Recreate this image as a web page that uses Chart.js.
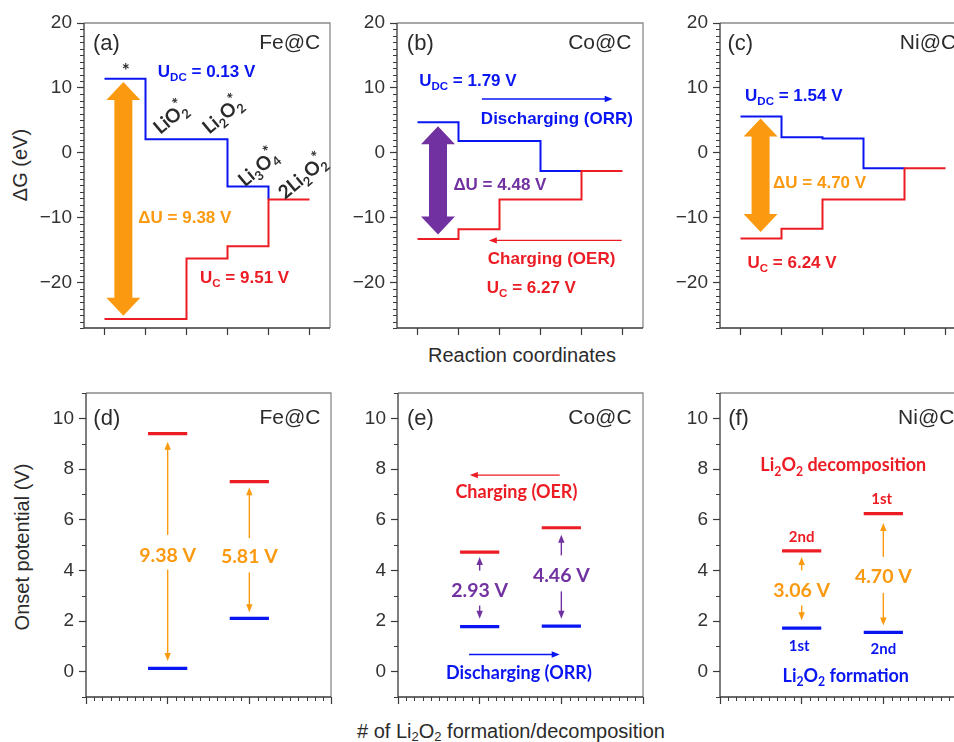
<!DOCTYPE html>
<html>
<head>
<meta charset="utf-8" />
<title>Li-O2 free energy and onset potentials</title>
<script src="https://cdn.jsdelivr.net/npm/chart.js"></script>
<style>
  body { margin: 0; background: #fff; }
  #fig { position: relative; width: 954px; height: 742px; overflow: hidden;
         font-family: 'Liberation Sans', Arial, sans-serif; color: #2b2b2b; }
  #fig canvas { position: absolute; }
  .t { position: absolute; font-size: 20px; white-space: nowrap; transform: translate(-50%, -50%); }
  .v { transform: translate(-50%, -50%) rotate(-90deg); }
  .t sub { font-size: 13px; vertical-align: -3px; line-height: 0; }
</style>
</head>
<body>
<div id="fig">
  <div class="t v" style="left:20px; top:165px">ΔG (eV)</div>
  <div class="t" style="left:522px; top:355px">Reaction coordinates</div>
  <div class="t v" style="left:22px; top:547px">Onset potential (V)</div>
  <div class="t" style="left:511px; top:731px"># of Li<sub>2</sub>O<sub>2</sub> formation/decomposition</div>
</div>
<script>
// free energy of each state along the reaction coordinate (eV)
const states = ['*', 'LiO2*', 'Li2O2*', 'Li3O4*', '2Li2O2*'];
const coordTicks = [0, 1, 2, 3, 4, 5];
const feORR = [11.4, 2.1, 2.1, -5.2, -7.2];
const feOER = [-25.6, -25.6, -16.3, -14.4, -7.2];
const coORR = [4.7, 1.8, 1.8, -2.8, -2.8];
const coOER = [-13.3, -11.8, -7.2, -7.2, -2.8];
const niORR = [5.6, 2.4, 2.2, -2.4, -2.4];
const niOER = [-13.2, -11.7, -7.2, -7.2, -2.4];
const energyTicks = [-20, -10, 0, 10, 20];

// onset potentials for the 1st / 2nd Li2O2 (V)
const cycles = [1, 2];
const cycleTicks = [0, 1, 2, 3];
const feDischarge = [0.13, 2.1];
const feCharge = [9.4, 7.5];
const coDischarge = [1.78, 1.8];
const coCharge = [4.72, 5.68];
const niDischarge = [1.72, 1.55];
const niCharge = [4.77, 6.24];
const feGap = ['9.38 V', '5.81 V'];
const coGap = ['2.93 V', '4.46 V'];
const niGap = ['3.06 V', '4.70 V'];
const potentialTicks = [0, 2, 4, 6, 8, 10];

const SANS = "'Liberation Sans', Arial, sans-serif";
const CAL = "Lato, 'Noto Sans', sans-serif";
const INK = '#2b2b2b';
const BLUE = '#0a16f2';
const RED = '#ec1c24';
const ORANGE = '#fb9a10';
const PURPLE = '#7131a1';

const ST = {
  tag:  { size: 22, family: SANS, weight: 'normal', color: INK },
  name: { size: 21, family: SANS, weight: 'normal', color: INK },
  ann:  { size: 17, family: SANS, weight: 'bold' },
  chem: { size: 19, family: CAL, weight: 'bold', color: INK, sup: 0.85 },
  cal:  { size: 19.5, family: CAL, weight: 'bold' },
  calS: { size: 18, family: CAL, weight: 'bold' },
  ord:  { size: 15, family: CAL, weight: 'bold' }
};

function parseRich(s) {
  const segs = [];
  let buf = '', i = 0;
  while (i < s.length) {
    const c = s[i];
    if ((c === '_' || c === '^') && s[i + 1] === '{') {
      if (buf) { segs.push({ t: buf, k: 'n' }); buf = ''; }
      const j = s.indexOf('}', i);
      segs.push({ t: s.slice(i + 2, j), k: c === '_' ? 'sub' : 'sup' });
      i = j + 1;
    } else { buf += c; i++; }
  }
  if (buf) segs.push({ t: buf, k: 'n' });
  return segs;
}

function drawRich(ctx, s, px, py, st, color, align, rot) {
  const segs = parseRich(s);
  const items = [];
  let w = 0;
  segs.forEach((sg, k) => {
    const fs = sg.k === 'n' ? st.size : st.size * (sg.k === 'sup' && st.sup ? st.sup : 0.68);
    const font = st.weight + ' ' + fs + 'px ' + st.family;
    ctx.font = font;
    const tw = ctx.measureText(sg.t).width;
    const dy = sg.k === 'sub' ? st.size * 0.25 : sg.k === 'sup' ? -st.size * 0.4 : 0;
    if (sg.k === 'sup' && k > 0 && segs[k - 1].k === 'sub') {
      const sx = items[items.length - 1].dx;
      items.push({ t: sg.t, font, dx: sx, dy });
      w = Math.max(w, sx + tw);
    } else {
      items.push({ t: sg.t, font, dx: w, dy });
      w += tw;
    }
  });
  ctx.save();
  ctx.translate(px, py);
  if (rot) ctx.rotate(rot * Math.PI / 180);
  const x0 = align === 'left' ? 0 : align === 'right' ? -w : -w / 2;
  ctx.fillStyle = color || st.color || INK;
  ctx.textAlign = 'left';
  ctx.textBaseline = 'alphabetic';
  const base = st.size * 0.36;
  items.forEach(it => { ctx.font = it.font; ctx.fillText(it.t, x0 + it.dx, base + it.dy); });
  ctx.restore();
}

function arrowHead(ctx, x1, y1, x2, y2, len, half) {
  const a = Math.atan2(y2 - y1, x2 - x1);
  ctx.beginPath();
  ctx.moveTo(x2, y2);
  ctx.lineTo(x2 - len * Math.cos(a) + half * Math.sin(a), y2 - len * Math.sin(a) - half * Math.cos(a));
  ctx.lineTo(x2 - len * Math.cos(a) - half * Math.sin(a), y2 - len * Math.sin(a) + half * Math.cos(a));
  ctx.closePath();
  ctx.fill();
}

function makeDeco(spec) {
  return {
    id: 'deco',
    afterDatasetsDraw(chart) {
      const { ctx, chartArea: a, scales: { x, y } } = chart;
      ctx.save();
      // frame: dark axes, light top/right
      ctx.lineWidth = 1.3;
      ctx.strokeStyle = '#8a8a8a';
      ctx.beginPath();
      ctx.moveTo(a.left, a.top); ctx.lineTo(a.right, a.top); ctx.lineTo(a.right, a.bottom);
      ctx.stroke();
      ctx.strokeStyle = '#3a3a3a';
      ctx.beginPath();
      ctx.moveTo(a.left, a.top); ctx.lineTo(a.left, a.bottom); ctx.lineTo(a.right, a.bottom);
      ctx.stroke();
      // minor ticks
      ctx.lineWidth = 1;
      if (spec.minorY) {
        for (let v = Math.ceil(y.min); v <= y.max; v += spec.minorY) {
          if (v % spec.majorY === 0) continue;
          const py = Math.round(y.getPixelForValue(v)) + 0.5;
          ctx.beginPath(); ctx.moveTo(a.left - 4, py); ctx.lineTo(a.left, py); ctx.stroke();
        }
      }
      if (spec.minorX) {
        for (let k = 1; k < (x.max - x.min) / spec.minorX; k++) {
          const v = x.min + k * spec.minorX;
          if (Math.abs(v - Math.round(v)) < 1e-6) continue;
          const px = Math.round(x.getPixelForValue(v)) + 0.5;
          ctx.beginPath(); ctx.moveTo(px, a.bottom); ctx.lineTo(px, a.bottom + 4); ctx.stroke();
        }
      }
      // thick double arrows
      (spec.bigArrows || []).forEach(b => {
        const cx = x.getPixelForValue(b.x), yt = y.getPixelForValue(b.y1), yb = y.getPixelForValue(b.y2);
        const sw = 9, hw = 17, hl = 18;
        ctx.fillStyle = b.color;
        ctx.beginPath();
        ctx.moveTo(cx, yt);
        ctx.lineTo(cx + hw, yt + hl); ctx.lineTo(cx + sw, yt + hl);
        ctx.lineTo(cx + sw, yb - hl); ctx.lineTo(cx + hw, yb - hl);
        ctx.lineTo(cx, yb);
        ctx.lineTo(cx - hw, yb - hl); ctx.lineTo(cx - sw, yb - hl);
        ctx.lineTo(cx - sw, yt + hl); ctx.lineTo(cx - hw, yt + hl);
        ctx.closePath();
        ctx.fill();
      });
      // thin arrows, head at the second point
      (spec.arrows || []).forEach(r => {
        const x1 = x.getPixelForValue(r.x1), y1 = y.getPixelForValue(r.y1);
        const x2 = x.getPixelForValue(r.x2), y2 = y.getPixelForValue(r.y2);
        ctx.strokeStyle = r.color; ctx.fillStyle = r.color; ctx.lineWidth = 1.4;
        const a2 = Math.atan2(y2 - y1, x2 - x1);
        ctx.beginPath(); ctx.moveTo(x1, y1);
        ctx.lineTo(x2 - 6 * Math.cos(a2), y2 - 6 * Math.sin(a2)); ctx.stroke();
        arrowHead(ctx, x1, y1, x2, y2, 8, 3.2);
      });
      (spec.texts || []).forEach(t => {
        drawRich(ctx, t.s, x.getPixelForValue(t.x), y.getPixelForValue(t.y), ST[t.st], t.color, t.align || 'center', t.rot);
      });
      ctx.restore();
    }
  };
}

const PAD_L = 60, PAD_T = 12, PAD_R = 14;

function addCanvas(r, xh) {
  const c = document.createElement('canvas');
  c.width = r.R - r.L + PAD_L + PAD_R;
  c.height = r.B - r.T + PAD_T + xh;
  c.style.left = (r.L - PAD_L) + 'px';
  c.style.top = (r.T - PAD_T) + 'px';
  document.getElementById('fig').appendChild(c);
  return c;
}

function minusFmt(v) { return v < 0 ? '\u2212' + Math.abs(v) : String(v); }

function axes(xr, yr, xh, xLabels) {
  return {
    x: {
      type: 'linear', min: xr.min, max: xr.max,
      afterBuildTicks: s => { s.ticks = xr.ticks.map(v => ({ value: v })); },
      afterFit: s => { s.height = xh; s.paddingLeft = 0; s.paddingRight = 0; },
      border: { display: false },
      grid: { drawOnChartArea: false, tickLength: 7, tickColor: '#3a3a3a', tickWidth: 1.2 },
      ticks: { padding: 5, maxRotation: 0, autoSkip: false, color: '#666', font: { family: SANS, size: 19 },
               callback: v => xLabels ? String(v) : '' }
    },
    y: {
      min: yr.min, max: yr.max,
      afterBuildTicks: s => { s.ticks = yr.ticks.map(v => ({ value: v })); },
      afterFit: s => { s.width = PAD_L; s.paddingTop = 0; s.paddingBottom = 0; },
      border: { display: false },
      grid: { drawOnChartArea: false, tickLength: 7, tickColor: '#3a3a3a', tickWidth: 1.2 },
      ticks: { padding: 5, color: '#333', font: { family: SANS, size: 19 }, callback: minusFmt }
    }
  };
}

// one point per state, horizontal first; the last state is closed at x = end
function stepPoints(levels, end) {
  const pts = levels.map((v, i) => ({ x: i, y: v }));
  if (end > levels.length - 1) pts.push({ x: end, y: levels[levels.length - 1] });
  return pts;
}

function energyPanel(r, orr, oer, spec) {
  const c = addCanvas(r, 22);
  new Chart(c, {
    type: 'line',
    data: {
      datasets: [
        { data: stepPoints(oer, 5), borderColor: RED, borderWidth: 2, stepped: 'before', pointRadius: 0, borderJoinStyle: 'miter' },
        { data: stepPoints(orr, 4), borderColor: BLUE, borderWidth: 2, stepped: 'before', pointRadius: 0, borderJoinStyle: 'miter' }
      ]
    },
    options: {
      responsive: false, animation: false, devicePixelRatio: 1,
      layout: { padding: { left: 0, top: PAD_T, right: PAD_R, bottom: 0 } },
      plugins: { legend: { display: false }, tooltip: { enabled: false } },
      scales: axes({ min: -0.5, max: 5.5, ticks: coordTicks }, { min: -27, max: 20, ticks: energyTicks }, 22, false)
    },
    plugins: [makeDeco(Object.assign({ minorY: 1, majorY: 10 }, spec))]
  });
}

function levelPoints(xs, ys) {
  const pts = [];
  xs.forEach((xv, i) => { pts.push({ x: xv - 0.24, y: ys[i] }, { x: xv + 0.24, y: ys[i] }, { x: xv, y: null }); });
  return pts;
}

function onsetPanel(r, dis, chg, gaps, gapColor, gapY, arrowYs, spec) {
  const c = addCanvas(r, 16);
  const texts = (spec.texts || []).concat(gaps.map((g, i) => ({ x: cycles[i], y: gapY[i], s: g, st: 'cal', color: gapColor })));
  const arrows = (spec.arrows || []).concat(...cycles.map((cx, i) => {
    const [a1, a2, b1, b2] = arrowYs[i];
    return [{ x1: cx, y1: a1, x2: cx, y2: a2, color: gapColor }, { x1: cx, y1: b1, x2: cx, y2: b2, color: gapColor }];
  }));
  new Chart(c, {
    type: 'line',
    data: {
      datasets: [
        { data: levelPoints(cycles, chg), borderColor: RED, borderWidth: 3.2, pointRadius: 0, spanGaps: false },
        { data: levelPoints(cycles, dis), borderColor: BLUE, borderWidth: 3.2, pointRadius: 0, spanGaps: false }
      ]
    },
    options: {
      responsive: false, animation: false, devicePixelRatio: 1,
      layout: { padding: { left: 0, top: PAD_T, right: PAD_R, bottom: 0 } },
      plugins: { legend: { display: false }, tooltip: { enabled: false } },
      scales: axes({ min: 0, max: 3, ticks: cycleTicks }, { min: -1, max: 11, ticks: potentialTicks }, 16, true)
    },
    plugins: [makeDeco({ minorY: 1, majorY: 2, minorX: 0.1, texts, arrows, bigArrows: spec.bigArrows })]
  });
}

// (a) Fe@C
energyPanel({ L: 84, T: 23, R: 330, B: 328 }, feORR, feOER, {
  bigArrows: [{ x: 0.46, y1: 10.9, y2: -25.1, color: ORANGE }],
  texts: [
    { x: -0.28, y: 17.1, s: '(a)', st: 'tag', align: 'left' },
    { x: 5.26, y: 17.1, s: 'Fe@C', st: 'name', align: 'right' },
    { x: 0.52, y: 12.7, s: '*', st: 'chem' },
    { x: 1.30, y: 12.6, s: 'U_{DC} = 0.13 V', st: 'ann', color: BLUE, align: 'left' },
    { x: 1.60, y: 5.4, s: 'LiO_{2}^{*}', st: 'chem', rot: -40 },
    { x: 2.87, y: 5.8, s: 'Li_{2}O_{2}^{*}', st: 'chem', rot: -40 },
    { x: 3.74, y: -2.3, s: 'Li_{3}O_{4}^{*}', st: 'chem', rot: -40 },
    { x: 4.82, y: -3.7, s: '2Li_{2}O_{2}^{*}', st: 'chem', rot: -40 },
    { x: 1.96, y: -9.9, s: 'ΔU = 9.38 V', st: 'ann', color: ORANGE },
    { x: 2.33, y: -19.1, s: 'U_{C} = 9.51 V', st: 'ann', color: RED, align: 'left' }
  ]
});

// (b) Co@C
energyPanel({ L: 397, T: 23, R: 643, B: 328 }, coORR, coOER, {
  bigArrows: [{ x: 0.5, y1: 4.1, y2: -12.6, color: PURPLE }],
  arrows: [
    { x1: 1.57, y1: 8.3, x2: 4.76, y2: 8.3, color: BLUE },
    { x1: 4.98, y1: -13.5, x2: 1.74, y2: -13.5, color: RED }
  ],
  texts: [
    { x: -0.26, y: 17.1, s: '(b)', st: 'tag', align: 'left' },
    { x: 5.22, y: 17.1, s: 'Co@C', st: 'name', align: 'right' },
    { x: 0.04, y: 11.2, s: 'U_{DC} = 1.79 V', st: 'ann', color: BLUE, align: 'left' },
    { x: 3.40, y: 5.4, s: 'Discharging (ORR)', st: 'ann', color: BLUE },
    { x: 2.01, y: -4.8, s: 'ΔU = 4.48 V', st: 'ann', color: PURPLE },
    { x: 3.27, y: -16.2, s: 'Charging (OER)', st: 'ann', color: RED },
    { x: 1.69, y: -20.7, s: 'U_{C} = 6.27 V', st: 'ann', color: RED, align: 'left' }
  ]
});

// (c) Ni@C
energyPanel({ L: 720, T: 23, R: 966, B: 328 }, niORR, niOER, {
  bigArrows: [{ x: 0.49, y1: 5.3, y2: -12.2, color: ORANGE }],
  texts: [
    { x: -0.32, y: 17.1, s: '(c)', st: 'tag', align: 'left' },
    { x: 5.26, y: 17.1, s: 'Ni@C', st: 'name', align: 'right' },
    { x: 0.11, y: 9.0, s: 'U_{DC} = 1.54 V', st: 'ann', color: BLUE, align: 'left' },
    { x: 1.93, y: -4.45, s: 'ΔU = 4.70 V', st: 'ann', color: ORANGE },
    { x: 0.17, y: -16.8, s: 'U_{C} = 6.24 V', st: 'ann', color: RED, align: 'left' }
  ]
});

// (d) Fe@C
onsetPanel({ L: 86, T: 393, R: 331, B: 697 }, feDischarge, feCharge, feGap, ORANGE, [4.62, 4.55],
  [[5.4, 9.08, 4.03, 0.42], [5.27, 7.28, 3.92, 2.35]], {
  texts: [
    { x: 0.09, y: 10.06, s: '(d)', st: 'tag', align: 'left' },
    { x: 2.87, y: 10.06, s: 'Fe@C', st: 'name', align: 'right' }
  ]
});

// (e) Co@C
onsetPanel({ L: 398, T: 393, R: 643, B: 697 }, coDischarge, coCharge, coGap, PURPLE, [3.24, 3.83],
  [[3.99, 4.53, 2.61, 2.09], [4.59, 5.4, 3.17, 2.09]], {
  arrows: [
    { x1: 1.98, y1: 7.76, x2: 0.88, y2: 7.76, color: RED },
    { x1: 0.87, y1: 0.68, x2: 1.98, y2: 0.68, color: BLUE }
  ],
  texts: [
    { x: 0.11, y: 10.06, s: '(e)', st: 'tag', align: 'left' },
    { x: 2.86, y: 10.06, s: 'Co@C', st: 'name', align: 'right' },
    { x: 1.45, y: 7.1, s: 'Charging (OER)', st: 'calS', color: RED },
    { x: 1.48, y: -0.04, s: 'Discharging (ORR)', st: 'calS', color: BLUE }
  ]
});

// (f) Ni@C
onsetPanel({ L: 720, T: 393, R: 965, B: 697 }, niDischarge, niCharge, niGap, ORANGE, [3.24, 3.76],
  [[4.0, 4.53, 2.61, 2.03], [4.53, 5.87, 3.11, 1.82]], {
  texts: [
    { x: 0.10, y: 10.06, s: '(f)', st: 'tag', align: 'left' },
    { x: 2.87, y: 10.06, s: 'Ni@C', st: 'name', align: 'right' },
    { x: 1.51, y: 8.16, s: 'Li_{2}O_{2} decomposition', st: 'calS', color: RED },
    { x: 1.98, y: 6.85, s: '1st', st: 'ord', color: RED },
    { x: 1.0, y: 5.34, s: '2nd', st: 'ord', color: RED },
    { x: 0.97, y: 1.04, s: '1st', st: 'ord', color: BLUE },
    { x: 2.0, y: 0.9, s: '2nd', st: 'ord', color: BLUE },
    { x: 1.54, y: -0.15, s: 'Li_{2}O_{2} formation', st: 'calS', color: BLUE }
  ]
});
</script>
</body>
</html>
